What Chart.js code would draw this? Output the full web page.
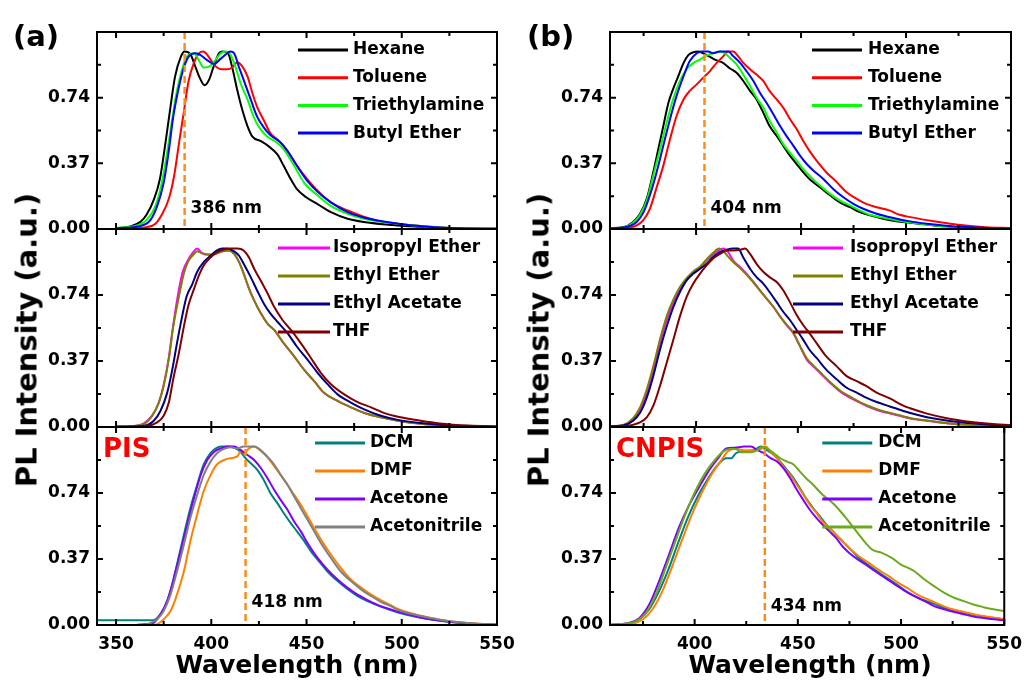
<!DOCTYPE html>
<html>
<head>
<meta charset="utf-8">
<title>PL spectra of PIS and CNPIS in different solvents</title>
<script src="https://cdn.jsdelivr.net/npm/chart.js@4.4.1/dist/chart.umd.min.js"></script>
<style>
  html, body { margin: 0; padding: 0; background: #fff; }
  #page { position: relative; width: 1031px; height: 682px; overflow: hidden;
          font-family: "DejaVu Sans", sans-serif; font-weight: bold; color: #000; }
  #page canvas { position: absolute; left: 0; top: 0; }
  .txt { position: absolute; white-space: nowrap; line-height: 1; }
</style>
</head>
<body>
<div id="page">
  <canvas id="a1" width="1031" height="682"></canvas>
  <canvas id="a2" width="1031" height="682"></canvas>
  <canvas id="a3" width="1031" height="682"></canvas>
  <canvas id="b1" width="1031" height="682"></canvas>
  <canvas id="b2" width="1031" height="682"></canvas>
  <canvas id="b3" width="1031" height="682"></canvas>

  <div class="txt" style="left:13px;top:36px;font-size:29px;transform:translateY(-50%)">(a)</div>
  <div class="txt" style="left:527px;top:36px;font-size:29px;transform:translateY(-50%)">(b)</div>
  <div class="txt" style="left:27px;top:340px;font-size:29px;transform:translate(-50%,-50%) rotate(-90deg)">PL Intensity (a.u.)</div>
  <div class="txt" style="left:539px;top:340px;font-size:29px;transform:translate(-50%,-50%) rotate(-90deg)">PL Intensity (a.u.)</div>
  <div class="txt" style="left:297px;top:664px;font-size:25px;transform:translate(-50%,-50%)">Wavelength (nm)</div>
  <div class="txt" style="left:810px;top:664px;font-size:25px;transform:translate(-50%,-50%)">Wavelength (nm)</div>
  <div class="txt" style="left:103px;top:448px;font-size:26px;color:#ff0000;transform:translateY(-50%)">PIS</div>
  <div class="txt" style="left:616px;top:448px;font-size:26px;color:#ff0000;transform:translateY(-50%)">CNPIS</div>
</div>

<script>
// ---- axes ----
const X_TICKS = [350, 400, 450, 500, 550];
const Y_TICKS = [0, 0.37, 0.74];
const Y_MAX = 1.11;

// ---- solvent groups ----
const NONPOLAR = ['Hexane', 'Toluene', 'Triethylamine', 'Butyl Ether'];
const ETHERS = ['Isopropyl Ether', 'Ethyl Ether', 'Ethyl Acetate', 'THF'];
const POLAR = ['DCM', 'DMF', 'Acetone', 'Acetonitrile'];

// emission maxima marked with dashed lines
const PIS_PEAKS = [386, 418];
const CNPIS_PEAKS = [404, 434];

// ---- PIS spectra, [wavelength nm, normalized intensity] ----
const PIS_HEXANE = [[350,0.005],[357.5,0.015],[362.8,0.04],[366,0.08],[370,0.17],[373,0.28],[376,0.49],[378.6,0.69],[381,0.86],[384,0.97],[386,1.0],[389,0.985],[391.8,0.91],[394,0.85],[396.5,0.81],[398.8,0.84],[401.4,0.92],[404,0.99],[406,1.0],[408.8,0.99],[411,0.91],[413.7,0.78],[416.3,0.67],[419,0.58],[421.6,0.52],[426,0.495],[430,0.467],[434.7,0.42],[438,0.356],[441.8,0.28],[445,0.225],[449.6,0.18],[455.8,0.14],[462.8,0.095],[471.6,0.058],[480,0.04],[498,0.02],[510,0.012],[520,0.006],[535,0.002],[550,0.001]];
const PIS_TOLUENE = [[350,0.002],[360,0.004],[366,0.01],[370.7,0.03],[374,0.08],[377.7,0.17],[380.5,0.3],[383,0.48],[385.6,0.66],[388,0.83],[391,0.94],[393.5,0.99],[395.8,1.0],[398,0.98],[400.5,0.94],[403,0.91],[405.8,0.9],[408.4,0.9],[411,0.91],[413.7,0.94],[416,0.92],[419,0.86],[421.6,0.765],[424,0.69],[427.7,0.61],[431,0.54],[434.7,0.505],[438,0.467],[441.8,0.41],[445,0.356],[450.5,0.28],[455.8,0.216],[462.8,0.15],[471.6,0.104],[480,0.07],[489,0.043],[498,0.03],[510,0.017],[520,0.009],[535,0.003],[550,0.001]];
const PIS_TEA = [[350,0.005],[361,0.02],[366,0.05],[370.7,0.13],[374,0.26],[376.8,0.43],[379.5,0.62],[382,0.78],[384.7,0.9],[387,0.97],[391,0.99],[393.5,0.95],[396,0.91],[399.6,0.92],[402,0.95],[405,0.99],[407.5,1.0],[410,0.985],[412.8,0.91],[415.4,0.82],[419,0.73],[422.5,0.625],[426,0.56],[429.5,0.52],[434.7,0.485],[438,0.45],[443.5,0.356],[448.8,0.26],[455.8,0.19],[462.8,0.13],[471.6,0.085],[480,0.058],[498,0.03],[510,0.016],[520,0.008],[535,0.003],[550,0.001]];
const PIS_BUTYL = [[350,0.004],[362.8,0.017],[368,0.05],[371.6,0.13],[375,0.26],[377.7,0.44],[380,0.63],[383,0.8],[385.6,0.91],[388,0.97],[391.8,0.99],[394.4,0.98],[398,0.95],[401.4,0.93],[405,0.96],[408.4,0.99],[410,1.0],[412,0.99],[414.6,0.91],[417,0.84],[420.7,0.73],[424,0.635],[427.7,0.57],[431,0.53],[436.5,0.486],[440,0.44],[445,0.356],[450.5,0.27],[455.8,0.21],[462.8,0.15],[471.6,0.095],[480,0.065],[498,0.03],[510,0.016],[520,0.008],[535,0.003],[550,0.001]];

const PIS_IPE = [[350,0.002],[357.5,0.004],[364.6,0.02],[369,0.065],[372.5,0.14],[375,0.235],[377.7,0.39],[380,0.57],[382.5,0.74],[385,0.87],[388,0.94],[390.5,0.98],[392.6,1.0],[395,0.975],[398.8,0.965],[402,0.97],[405.8,0.985],[409.3,0.99],[412,0.97],[414.6,0.924],[417,0.86],[419.8,0.776],[422.5,0.71],[426,0.637],[429.5,0.58],[433,0.544],[438,0.47],[443.5,0.396],[448.8,0.32],[454,0.257],[459.3,0.19],[466.3,0.146],[473.3,0.11],[480,0.08],[489,0.054],[498,0.035],[510,0.018],[520,0.01],[535,0.004],[550,0.002]];
const PIS_EE = [[350,0.002],[357.5,0.004],[364.6,0.017],[369,0.063],[372.5,0.137],[375,0.23],[377.7,0.38],[380,0.56],[383,0.73],[385.6,0.86],[388,0.93],[391,0.97],[392.6,0.985],[395,0.975],[398.8,0.967],[402,0.97],[405.8,0.985],[409.3,0.99],[412,0.97],[414.6,0.924],[417,0.86],[419.8,0.776],[422.5,0.71],[426,0.637],[429.5,0.58],[433,0.544],[438,0.47],[443.5,0.396],[448.8,0.32],[454,0.257],[459.3,0.19],[466.3,0.146],[473.3,0.11],[480,0.08],[489,0.054],[498,0.035],[510,0.018],[520,0.01],[535,0.004],[550,0.002]];
const PIS_EA = [[350,0.001],[364.6,0.007],[369.8,0.035],[373.3,0.09],[376.8,0.19],[379.5,0.32],[382,0.47],[384.7,0.62],[387,0.73],[390,0.8],[392.6,0.87],[396,0.924],[399.6,0.96],[403,0.99],[405.8,1.0],[408.4,1.0],[412,0.985],[414.6,0.96],[417,0.915],[420.7,0.84],[424,0.767],[427.7,0.69],[431,0.637],[434.7,0.59],[440,0.526],[445,0.45],[450.5,0.378],[455.8,0.304],[461,0.24],[466.3,0.183],[473.3,0.137],[480,0.1],[489,0.063],[498,0.04],[510,0.022],[520,0.012],[535,0.005],[550,0.002]];
const PIS_THF = [[350,0.001],[364.6,0.004],[371.6,0.026],[375,0.063],[377.7,0.137],[380,0.267],[383,0.415],[385.6,0.563],[388,0.683],[391,0.776],[393.5,0.85],[396,0.905],[399.6,0.95],[403,0.98],[406.7,0.995],[410,1.0],[413.7,1.0],[417,0.99],[419.8,0.95],[422.5,0.887],[426,0.82],[429.5,0.75],[433,0.674],[437.4,0.6],[441.8,0.544],[447,0.47],[452.3,0.387],[457.5,0.304],[462.8,0.24],[469.8,0.183],[476.8,0.14],[483.9,0.11],[490.9,0.078],[498,0.058],[510,0.035],[520,0.02],[535,0.008],[550,0.003]];

const PIS_DCM = [[340,0.026],[350,0.026],[360,0.026],[369,0.026],[371.6,0.04],[375,0.088],[378.6,0.19],[382,0.34],[385.6,0.506],[389,0.655],[392.6,0.786],[396,0.9],[399.6,0.963],[403,0.994],[405.8,1.0],[409.3,1.0],[412,0.994],[415.4,0.97],[418,0.935],[420.7,0.907],[424.2,0.87],[427.7,0.81],[431,0.74],[434.7,0.683],[438,0.628],[441.8,0.57],[445,0.525],[448.8,0.47],[452.3,0.413],[455.8,0.367],[461,0.3],[466.3,0.246],[471.6,0.2],[476.8,0.162],[482,0.134],[487.4,0.11],[492.6,0.09],[498,0.07],[510,0.04],[520,0.024],[530,0.012],[540,0.005],[550,0.002]];
const PIS_DMF = [[362,0.0],[370.7,0.002],[375,0.032],[378.6,0.078],[382,0.17],[385.6,0.3],[389,0.47],[392.6,0.62],[396,0.75],[399.6,0.84],[403,0.9],[406.7,0.925],[410,0.935],[413.7,0.945],[415.8,0.98],[417,0.96],[419.8,0.99],[422.5,1.0],[426,0.975],[429.5,0.94],[433,0.89],[436.5,0.84],[440,0.786],[443.5,0.73],[447,0.674],[450.5,0.61],[454,0.544],[457.5,0.48],[462.8,0.395],[468,0.32],[473.3,0.255],[478.6,0.21],[484,0.17],[489,0.14],[494.4,0.11],[498,0.09],[510,0.052],[520,0.03],[530,0.015],[540,0.007],[550,0.003]];
const PIS_ACETONE = [[361,0.002],[369.8,0.013],[373.3,0.06],[376.8,0.134],[380.4,0.264],[383.9,0.413],[387.4,0.562],[390.9,0.71],[394.4,0.84],[397.9,0.925],[401.4,0.97],[405,0.99],[408.4,1.0],[412,1.0],[415.4,0.98],[419,0.953],[422.5,0.925],[426,0.88],[429.5,0.823],[433,0.758],[436.5,0.7],[440,0.646],[443.5,0.58],[447,0.525],[450.5,0.46],[455.8,0.376],[461,0.31],[466.3,0.255],[471.6,0.208],[476.8,0.17],[482,0.14],[489,0.105],[498,0.075],[510,0.042],[520,0.025],[530,0.013],[540,0.006],[550,0.002]];
const PIS_MECN = [[366,0.002],[371.6,0.032],[375,0.078],[378.6,0.17],[382,0.3],[385.6,0.45],[389,0.6],[392.6,0.73],[396,0.84],[399.6,0.916],[403,0.963],[406.7,0.987],[410,0.996],[413.7,0.99],[417,1.0],[422.5,1.0],[426,0.98],[429.5,0.944],[433,0.9],[436.5,0.84],[440,0.786],[443.5,0.72],[447,0.655],[450.5,0.59],[454,0.525],[457.5,0.46],[462.8,0.376],[468,0.3],[473.3,0.246],[478.6,0.2],[484,0.162],[489,0.13],[494.4,0.105],[498,0.085],[510,0.05],[520,0.03],[530,0.015],[540,0.007],[550,0.003]];

// ---- CNPIS spectra ----
const CN_HEXANE = [[359,0.005],[365.3,0.01],[370,0.04],[373.3,0.086],[376.5,0.17],[379.6,0.32],[382,0.45],[384.4,0.58],[386.8,0.71],[389,0.787],[391.5,0.86],[394,0.935],[396.3,0.98],[398.7,0.996],[401,1.0],[403.4,0.99],[406.6,0.97],[409.8,0.95],[413,0.935],[416,0.906],[419.3,0.88],[422.5,0.834],[425.7,0.778],[428.8,0.73],[432,0.656],[435,0.58],[438.4,0.525],[441.5,0.47],[444.7,0.413],[447.9,0.366],[451,0.32],[454,0.282],[459,0.235],[463.8,0.19],[468.5,0.15],[473.3,0.123],[478,0.095],[482.8,0.077],[489,0.058],[495.5,0.043],[502,0.035],[510,0.025],[518,0.015],[526,0.009],[538,0.005],[550,0.003]];
const CN_TOLUENE = [[359,0.002],[365,0.004],[371.7,0.02],[374.9,0.05],[378,0.114],[381,0.226],[384.4,0.357],[387.6,0.507],[390.7,0.637],[394,0.73],[397,0.778],[400.3,0.815],[403.4,0.852],[406.6,0.89],[409.8,0.936],[413,0.974],[415.3,1.0],[417.7,1.0],[420,0.974],[422.5,0.936],[425.7,0.9],[428.8,0.87],[432,0.834],[435,0.778],[438.4,0.73],[441.5,0.684],[444.7,0.62],[447.9,0.563],[451,0.497],[454,0.44],[457.4,0.385],[462,0.32],[467,0.264],[471.7,0.207],[476.5,0.17],[481,0.142],[486,0.123],[492,0.105],[497,0.08],[502,0.067],[510,0.05],[518,0.035],[526,0.022],[538,0.01],[550,0.005]];
const CN_TEA = [[359,0.004],[365.3,0.008],[370,0.035],[373.3,0.08],[376.5,0.16],[379.6,0.3],[382.8,0.45],[386,0.6],[389,0.73],[392.3,0.834],[395.5,0.9],[398.7,0.936],[401.9,0.955],[405,0.978],[408,0.99],[411.4,1.0],[413.8,0.99],[416,0.965],[419.3,0.927],[422.5,0.87],[425.7,0.806],[428.8,0.74],[432,0.684],[435,0.61],[438.4,0.544],[441.5,0.478],[444.7,0.43],[447.9,0.385],[451,0.338],[454,0.3],[459,0.245],[463.8,0.198],[468.5,0.16],[473.3,0.133],[478,0.105],[482.8,0.08],[489,0.064],[495.5,0.049],[502,0.036],[510,0.025],[518,0.015],[526,0.009],[538,0.005],[550,0.003]];
const CN_BUTYL = [[359,0.003],[365.3,0.008],[371.7,0.04],[375,0.095],[378,0.19],[381.2,0.32],[384.4,0.47],[387.6,0.62],[390.7,0.75],[394,0.86],[397,0.946],[400.3,0.99],[402.7,1.0],[405.8,1.0],[408,0.99],[411.4,1.0],[415.3,1.0],[417.7,0.974],[421,0.936],[424,0.89],[427.3,0.834],[430.4,0.768],[433.6,0.71],[436.8,0.647],[440,0.58],[443,0.525],[446.3,0.47],[449.5,0.413],[452.7,0.366],[455.8,0.33],[460.6,0.282],[465.3,0.226],[470,0.18],[474.9,0.142],[479.6,0.114],[486,0.086],[494,0.062],[502,0.043],[510,0.03],[518,0.02],[526,0.012],[538,0.006],[550,0.003]];

const CN_IPE = [[359,0.004],[365.3,0.01],[370,0.044],[373.3,0.1],[376.5,0.19],[379.6,0.32],[382.8,0.47],[386,0.6],[389.2,0.7],[392.3,0.776],[395.5,0.83],[398.7,0.87],[401.9,0.896],[405,0.933],[408,0.967],[411.4,0.993],[413,1.0],[415.3,0.98],[417.7,0.933],[421,0.896],[424,0.86],[427.3,0.813],[430.4,0.767],[433.6,0.72],[436.8,0.674],[440,0.62],[443,0.572],[446.3,0.526],[449.5,0.452],[452.7,0.378],[455.8,0.34],[459,0.304],[463.8,0.248],[468.5,0.2],[473.3,0.165],[478,0.137],[482.8,0.11],[487.6,0.09],[494,0.072],[502,0.048],[510,0.035],[520,0.02],[530,0.012],[540,0.007],[550,0.004]];
const CN_EE = [[359,0.004],[365.3,0.012],[370,0.05],[373.3,0.11],[376.5,0.21],[379.6,0.34],[382.8,0.49],[386,0.62],[389.2,0.715],[392.3,0.785],[395.5,0.835],[398.7,0.872],[401.9,0.9],[405,0.94],[408,0.975],[411,1.0],[413,0.985],[415.3,0.955],[417.7,0.925],[421,0.89],[424,0.855],[427.3,0.81],[430.4,0.765],[433.6,0.72],[436.8,0.674],[440,0.62],[443,0.575],[446.3,0.53],[449.5,0.455],[452.7,0.385],[455.8,0.345],[459,0.308],[463.8,0.252],[468.5,0.205],[473.3,0.17],[478,0.14],[482.8,0.115],[487.6,0.094],[494,0.075],[502,0.05],[510,0.036],[520,0.021],[530,0.012],[540,0.007],[550,0.004]];
const CN_EA = [[359,0.003],[365.3,0.008],[370,0.035],[373.3,0.08],[376.5,0.165],[379.6,0.285],[382.8,0.433],[386,0.563],[389.2,0.674],[392.3,0.757],[395.5,0.822],[398.7,0.86],[401.9,0.887],[405,0.915],[408,0.952],[411.4,0.98],[414.6,0.994],[417.7,1.0],[420,1.0],[422.5,0.95],[425.7,0.887],[428.8,0.84],[432,0.804],[435,0.757],[438.4,0.7],[441.5,0.646],[444.7,0.6],[447.9,0.544],[451,0.49],[454,0.433],[457.4,0.387],[462,0.322],[467,0.267],[471.7,0.22],[476.5,0.193],[481,0.165],[486,0.14],[492.3,0.115],[498.7,0.09],[502,0.078],[510,0.055],[520,0.035],[530,0.022],[540,0.012],[550,0.007]];
const CN_THF = [[359,0.002],[365.3,0.004],[373.3,0.026],[376.5,0.054],[379.6,0.118],[382.8,0.23],[386,0.36],[389.2,0.49],[392.3,0.62],[395.5,0.73],[398.7,0.804],[401.9,0.86],[405,0.906],[408,0.943],[411.4,0.97],[414.6,0.99],[417.7,0.99],[421,0.994],[423.3,1.0],[425.7,0.97],[428.8,0.915],[432,0.87],[435,0.84],[438.4,0.813],[441.5,0.767],[444.7,0.7],[447.9,0.628],[451,0.572],[454,0.526],[457.4,0.47],[462,0.396],[467,0.34],[471.7,0.285],[476.5,0.257],[481,0.23],[486,0.193],[492.3,0.16],[498.7,0.12],[502,0.105],[510,0.075],[520,0.048],[530,0.03],[540,0.018],[550,0.01]];

const CN_DCM = [[359,0.001],[368.5,0.005],[373.3,0.032],[378,0.088],[382.8,0.19],[387.6,0.32],[392.3,0.47],[397,0.61],[401.9,0.73],[406.6,0.823],[411.4,0.9],[415.3,0.935],[417.7,0.935],[420,0.963],[422.5,0.972],[425.7,0.976],[428.8,0.98],[432,1.0],[435,0.98],[438.4,0.953],[441.5,0.916],[444.7,0.87],[447.9,0.823],[451,0.767],[454,0.71],[457.4,0.655],[460.6,0.61],[463.8,0.562],[467,0.525],[470,0.488],[473.3,0.45],[476.5,0.413],[479.6,0.376],[482.8,0.348],[486,0.32],[490.7,0.283],[495.5,0.246],[500,0.21],[505,0.17],[510,0.143],[514.6,0.125],[521,0.097],[527,0.078],[533.6,0.06],[541.5,0.045],[550,0.033]];
const CN_DMF = [[359,0.001],[368.5,0.004],[375,0.032],[379.6,0.088],[384.4,0.19],[389.2,0.33],[394,0.48],[398.7,0.62],[403.4,0.74],[408,0.84],[413,0.925],[416,0.972],[419.3,0.987],[424,0.98],[428.8,0.98],[432,0.987],[434.4,1.0],[436.8,0.972],[440,0.935],[443,0.888],[446.3,0.84],[449.5,0.786],[452.7,0.73],[455.8,0.674],[459,0.628],[462,0.58],[465.3,0.544],[468.5,0.506],[471.7,0.47],[474.9,0.432],[479.6,0.385],[484.4,0.348],[489,0.31],[494,0.274],[498.7,0.236],[503.4,0.205],[508,0.17],[513,0.143],[517.7,0.12],[524,0.091],[530.4,0.073],[536.8,0.056],[543,0.045],[550,0.033]];
const CN_ACETONE = [[359,0.001],[368.5,0.013],[373.3,0.04],[378,0.115],[382.8,0.246],[387.6,0.395],[392.3,0.544],[397,0.665],[401.9,0.767],[406.6,0.86],[411.4,0.935],[415.3,0.99],[419.3,0.994],[424,1.0],[427.3,1.0],[430.4,0.98],[433.6,0.963],[436.8,0.935],[440,0.916],[443,0.88],[446.3,0.823],[449.5,0.758],[452.7,0.7],[455.8,0.646],[459,0.6],[462,0.562],[465.3,0.525],[468.5,0.488],[471.7,0.44],[474.9,0.404],[478,0.376],[482.8,0.339],[487.6,0.3],[492.3,0.264],[497,0.227],[502,0.19],[506.6,0.162],[511.4,0.134],[516,0.106],[521,0.088],[525.7,0.073],[530.4,0.06],[535,0.048],[540,0.039],[544.7,0.032],[550,0.026]];
const CN_MECN = [[359,0.002],[365.3,0.006],[371.7,0.022],[376.5,0.07],[381.2,0.17],[386,0.32],[390.7,0.47],[395.5,0.62],[400.3,0.75],[405,0.85],[409.8,0.925],[413.8,0.972],[417,0.987],[420,0.987],[422.5,0.968],[427.3,0.968],[430.4,0.98],[432.8,1.0],[435,0.99],[438.4,0.963],[441.5,0.935],[444.7,0.916],[447.9,0.9],[451,0.86],[454,0.823],[457.4,0.786],[462,0.73],[467,0.683],[470,0.646],[473.3,0.6],[476.5,0.553],[479.6,0.506],[482.8,0.46],[486,0.423],[490.7,0.404],[495.5,0.376],[500,0.339],[503.4,0.32],[506.6,0.3],[511.4,0.255],[516,0.218],[521,0.18],[525.7,0.153],[530.4,0.134],[535,0.115],[540,0.1],[544.7,0.088],[550,0.078]];

Chart.defaults.font.family = '"DejaVu Sans", sans-serif';
Chart.defaults.font.weight = 'bold';
Chart.defaults.font.size = 17;
Chart.defaults.color = '#000';

const PAGE_W = 1031, PAGE_H = 682;
const Y_AXIS_W = 60;   // room for the y tick labels
const X_AXIS_H = 32;   // room for the x tick labels (bottom row only)
const PEAK_COLOR = '#ff8c1a';

// box, inward ticks, dashed peak marker, in-plot legend
const framePlugin = {
  id: 'frame',
  afterDatasetsDraw(chart) {
    const o = chart.options.plugins.frame;
    const { ctx, chartArea: a, scales: { x, y } } = chart;
    ctx.save();

    if (o.peak) {
      const px = x.getPixelForValue(o.peak);
      ctx.strokeStyle = PEAK_COLOR;
      ctx.lineWidth = 2.5;
      ctx.setLineDash([7, 4]);
      ctx.beginPath();
      ctx.moveTo(px, a.top);
      ctx.lineTo(px, a.bottom);
      ctx.stroke();
      ctx.setLineDash([]);
      ctx.fillStyle = '#000';
      ctx.font = 'bold 17px "DejaVu Sans"';
      ctx.textAlign = 'left';
      ctx.textBaseline = 'middle';
      ctx.fillText(o.peak + ' nm', px + 6, a.bottom - o.peakDy);
    }

    ctx.strokeStyle = '#000';
    ctx.lineWidth = 2;
    ctx.strokeRect(a.left, a.top, a.right - a.left, a.bottom - a.top);

    ctx.beginPath();
    for (let v = Math.ceil(x.min / 25) * 25; v <= x.max; v += 25) {
      const px = x.getPixelForValue(v);
      const len = v % 50 === 0 ? 6 : 4;
      ctx.moveTo(px, a.bottom); ctx.lineTo(px, a.bottom - len);
      ctx.moveTo(px, a.top); ctx.lineTo(px, a.top + len);
    }
    for (let k = 1; k < 6; k++) {
      const py = y.getPixelForValue(k * Y_MAX / 6);
      const len = k % 2 === 0 ? 6 : 4;
      ctx.moveTo(a.left, py); ctx.lineTo(a.left + len, py);
      ctx.moveTo(a.right, py); ctx.lineTo(a.right - len, py);
    }
    ctx.stroke();

    const lg = o.legend;
    ctx.font = 'bold 17px "DejaVu Sans"';
    ctx.textAlign = 'left';
    ctx.textBaseline = 'middle';
    chart.data.datasets.forEach((ds, i) => {
      const ly = a.top + lg.top + i * lg.step;
      ctx.strokeStyle = ds.borderColor;
      ctx.lineWidth = 3;
      ctx.beginPath();
      ctx.moveTo(a.right - lg.line[0], ly);
      ctx.lineTo(a.right - lg.line[1], ly);
      ctx.stroke();
      ctx.fillStyle = '#000';
      ctx.fillText(ds.label, a.right - lg.text, ly);
    });
    ctx.restore();
  }
};

function subplot(id, o) {
  const n = o.series.length;
  return new Chart(document.getElementById(id), {
    type: 'line',
    data: {
      datasets: o.series.map((s, i) => ({
        label: o.names[i],
        data: s.map(p => ({ x: p[0], y: p[1] })),
        borderColor: o.colors[i],
        borderWidth: 2,
        pointRadius: 0,
        cubicInterpolationMode: 'monotone',
        fill: false,
        order: n - i
      }))
    },
    options: {
      responsive: false,
      animation: false,
      events: [],
      layout: {
        padding: {
          left: o.box[0] - Y_AXIS_W,
          top: o.box[1],
          right: PAGE_W - o.box[2],
          bottom: PAGE_H - o.box[3] - (o.showX ? X_AXIS_H : 0)
        }
      },
      plugins: {
        legend: { display: false },
        tooltip: { enabled: false },
        frame: { peak: o.peak, peakDy: o.peakDy, legend: o.legend }
      },
      scales: {
        x: {
          type: 'linear',
          display: !!o.showX,
          min: o.xmin, max: 550,
          grid: { display: false, drawTicks: false },
          border: { display: false },
          ticks: { padding: 9, maxRotation: 0, autoSkip: false },
          afterBuildTicks: s => { s.ticks = X_TICKS.filter(v => v >= o.xmin).map(v => ({ value: v })); },
          afterFit: s => { s.height = o.showX ? X_AXIS_H : 0; }
        },
        y: {
          min: 0, max: Y_MAX,
          grid: { display: false, drawTicks: false },
          border: { display: false },
          ticks: { padding: 7, callback: v => v.toFixed(2) },
          afterBuildTicks: s => { s.ticks = Y_TICKS.map(v => ({ value: v })); },
          afterFit: s => { s.width = Y_AXIS_W; }
        }
      }
    },
    plugins: [framePlugin]
  });
}

const C_TOP = ['#000000', '#ff0000', '#00ff00', '#0000ff'];
const C_MID = ['#ff00ff', '#808000', '#000080', '#800000'];

// panel (a): PIS
subplot('a1', { box: [97, 32, 497, 229], xmin: 340, names: NONPOLAR, colors: C_TOP,
  series: [PIS_HEXANE, PIS_TOLUENE, PIS_TEA, PIS_BUTYL],
  peak: PIS_PEAKS[0], peakDy: 20, legend: { top: 18, step: 27.7, line: [199, 149], text: 144 } });
subplot('a2', { box: [97, 229, 497, 427], xmin: 340, names: ETHERS, colors: C_MID,
  series: [PIS_IPE, PIS_EE, PIS_EA, PIS_THF],
  legend: { top: 19, step: 28, line: [219, 167], text: 164 } });
subplot('a3', { box: [97, 427, 497, 625], xmin: 340, names: POLAR, showX: true,
  colors: ['#008080', '#ff8000', '#8000ff', '#808080'],
  series: [PIS_DCM, PIS_DMF, PIS_ACETONE, PIS_MECN],
  peak: PIS_PEAKS[1], peakDy: 22, legend: { top: 16, step: 28, line: [182, 132], text: 127 } });

// panel (b): CNPIS
subplot('b1', { box: [610, 32, 1011, 229], xmin: 359, names: NONPOLAR, colors: C_TOP,
  series: [CN_HEXANE, CN_TOLUENE, CN_TEA, CN_BUTYL],
  peak: CNPIS_PEAKS[0], peakDy: 20, legend: { top: 18, step: 27.7, line: [199, 149], text: 143 } });
subplot('b2', { box: [610, 229, 1011, 427], xmin: 359, names: ETHERS, colors: C_MID,
  series: [CN_IPE, CN_EE, CN_EA, CN_THF],
  legend: { top: 19, step: 28, line: [218, 168], text: 161 } });
subplot('b3', { box: [610, 427, 1011, 625], xmin: 359, names: POLAR, showX: true,
  colors: ['#008080', '#ff8000', '#8000ff', '#6aaa1e'],
  series: [CN_DCM, CN_DMF, CN_ACETONE, CN_MECN],
  peak: CNPIS_PEAKS[1], peakDy: 18, legend: { top: 16, step: 28, line: [182, 132], text: 126 } });
</script>
</body>
</html>
